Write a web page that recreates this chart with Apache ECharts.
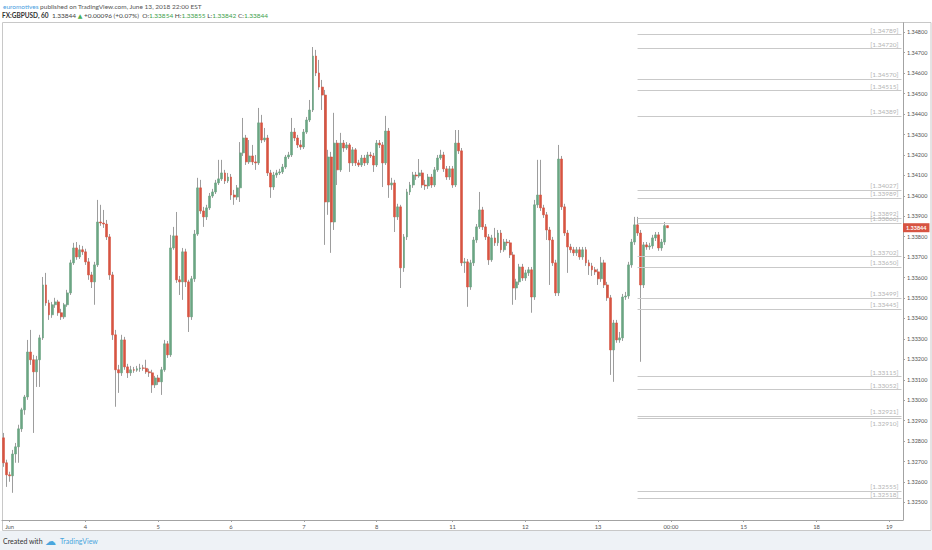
<!DOCTYPE html>
<html>
<head>
<meta charset="utf-8">
<title>FX:GBPUSD, 60</title>
<script src="https://cdn.jsdelivr.net/npm/echarts@6/dist/echarts.min.js"></script>
<style>
  html, body { margin: 0; padding: 0; background: #fff; }
  #chart { width: 932px; height: 550px; }
</style>
</head>
<body>
<div id="chart"></div>
<script>
// GBPUSD hourly bars, Jun 1 – Jun 13 2018: [open, high, low, close]
const ohlc = [
  [1.32816, 1.32840, 1.32674, 1.32694], [1.32694, 1.32709, 1.32576, 1.32635], [1.32635, 1.32650, 1.32601, 1.32630],
  [1.32630, 1.32757, 1.32547, 1.32737], [1.32737, 1.32791, 1.32694, 1.32772], [1.32772, 1.32880, 1.32694, 1.32860],
  [1.32860, 1.32963, 1.32845, 1.32953], [1.32953, 1.33026, 1.32929, 1.33016], [1.33016, 1.33295, 1.33002, 1.33236],
  [1.33236, 1.33344, 1.33173, 1.33198], [1.33198, 1.33222, 1.32840, 1.33139], [1.33139, 1.33217, 1.33065, 1.33198],
  [1.33198, 1.33320, 1.33065, 1.33305], [1.33305, 1.33603, 1.33295, 1.33564], [1.33564, 1.33623, 1.33462, 1.33476],
  [1.33476, 1.33491, 1.33393, 1.33418], [1.33418, 1.33481, 1.33403, 1.33467], [1.33467, 1.33501, 1.33452, 1.33481],
  [1.33481, 1.33491, 1.33413, 1.33428], [1.33428, 1.33447, 1.33393, 1.33408], [1.33408, 1.33476, 1.33398, 1.33467],
  [1.33467, 1.33540, 1.33457, 1.33525], [1.33525, 1.33687, 1.33515, 1.33672], [1.33672, 1.33770, 1.33662, 1.33745],
  [1.33745, 1.33774, 1.33687, 1.33701], [1.33701, 1.33760, 1.33691, 1.33736], [1.33736, 1.33755, 1.33711, 1.33726],
  [1.33726, 1.33741, 1.33662, 1.33677], [1.33677, 1.33696, 1.33589, 1.33613], [1.33613, 1.33628, 1.33549, 1.33579],
  [1.33579, 1.33677, 1.33467, 1.33662], [1.33662, 1.33980, 1.33652, 1.33872], [1.33872, 1.33956, 1.33853, 1.33867],
  [1.33867, 1.33931, 1.33843, 1.33862], [1.33862, 1.33882, 1.33784, 1.33799], [1.33799, 1.33813, 1.33589, 1.33613],
  [1.33613, 1.33628, 1.33295, 1.33320], [1.33320, 1.33344, 1.32968, 1.33149], [1.33149, 1.33173, 1.33036, 1.33134],
  [1.33134, 1.33320, 1.33119, 1.33295], [1.33295, 1.33310, 1.33149, 1.33163], [1.33163, 1.33178, 1.33109, 1.33134],
  [1.33134, 1.33168, 1.33119, 1.33149], [1.33149, 1.33163, 1.33134, 1.33147], [1.33147, 1.33168, 1.33139, 1.33154],
  [1.33154, 1.33178, 1.33139, 1.33158], [1.33158, 1.33173, 1.33144, 1.33156], [1.33156, 1.33198, 1.33129, 1.33139],
  [1.33139, 1.33154, 1.33114, 1.33134], [1.33134, 1.33149, 1.33036, 1.33075], [1.33075, 1.33119, 1.33060, 1.33109],
  [1.33109, 1.33124, 1.33075, 1.33090], [1.33090, 1.33163, 1.33026, 1.33149], [1.33149, 1.33295, 1.33139, 1.33276],
  [1.33276, 1.33290, 1.33207, 1.33222], [1.33222, 1.33809, 1.33212, 1.33745], [1.33745, 1.33848, 1.33736, 1.33804],
  [1.33804, 1.33921, 1.33574, 1.33589], [1.33589, 1.33608, 1.33515, 1.33579], [1.33579, 1.33745, 1.33491, 1.33726],
  [1.33726, 1.33741, 1.33554, 1.33579], [1.33579, 1.33589, 1.33334, 1.33408], [1.33408, 1.33608, 1.33393, 1.33594],
  [1.33594, 1.33833, 1.33579, 1.33813], [1.33813, 1.34088, 1.33804, 1.34039], [1.34039, 1.34078, 1.33912, 1.33926],
  [1.33926, 1.33946, 1.33848, 1.33897], [1.33897, 1.33956, 1.33882, 1.33941], [1.33941, 1.34014, 1.33931, 1.33999],
  [1.33999, 1.34034, 1.33990, 1.34019], [1.34019, 1.34078, 1.34009, 1.34063], [1.34063, 1.34176, 1.34053, 1.34083],
  [1.34083, 1.34176, 1.34073, 1.34112], [1.34112, 1.34127, 1.34058, 1.34073], [1.34073, 1.34112, 1.34063, 1.34092],
  [1.34092, 1.34107, 1.33980, 1.34004], [1.34004, 1.34029, 1.33956, 1.33994], [1.33994, 1.34053, 1.33980, 1.34039],
  [1.34039, 1.34263, 1.33970, 1.34210], [1.34210, 1.34381, 1.34195, 1.34283], [1.34283, 1.34298, 1.34151, 1.34166],
  [1.34166, 1.34273, 1.34156, 1.34195], [1.34195, 1.34249, 1.34151, 1.34166], [1.34166, 1.34200, 1.34127, 1.34161],
  [1.34161, 1.34430, 1.34151, 1.34357], [1.34357, 1.34396, 1.34258, 1.34273], [1.34273, 1.34332, 1.34263, 1.34283],
  [1.34283, 1.34298, 1.34097, 1.34112], [1.34112, 1.34127, 1.33990, 1.34043], [1.34043, 1.34117, 1.34029, 1.34102],
  [1.34102, 1.34127, 1.34088, 1.34112], [1.34112, 1.34132, 1.34102, 1.34117], [1.34117, 1.34156, 1.34107, 1.34141],
  [1.34141, 1.34200, 1.34132, 1.34190], [1.34190, 1.34215, 1.34180, 1.34200], [1.34200, 1.34381, 1.34190, 1.34312],
  [1.34312, 1.34332, 1.34268, 1.34283], [1.34283, 1.34298, 1.34234, 1.34249], [1.34249, 1.34273, 1.34225, 1.34239],
  [1.34239, 1.34327, 1.34229, 1.34312], [1.34312, 1.34386, 1.34303, 1.34371], [1.34371, 1.34469, 1.34361, 1.34420],
  [1.34420, 1.34728, 1.34410, 1.34684], [1.34684, 1.34714, 1.34586, 1.34601], [1.34601, 1.34665, 1.34518, 1.34532],
  [1.34532, 1.34567, 1.34420, 1.34493], [1.34493, 1.34518, 1.33760, 1.33970], [1.33970, 1.34225, 1.33907, 1.34190],
  [1.34190, 1.34215, 1.33721, 1.33872], [1.33872, 1.34406, 1.33833, 1.34258], [1.34258, 1.34273, 1.34053, 1.34127],
  [1.34127, 1.34308, 1.34117, 1.34258], [1.34258, 1.34273, 1.34215, 1.34234], [1.34234, 1.34263, 1.34225, 1.34249],
  [1.34249, 1.34258, 1.34117, 1.34161], [1.34161, 1.34239, 1.34146, 1.34225], [1.34225, 1.34234, 1.34146, 1.34161],
  [1.34161, 1.34176, 1.34141, 1.34151], [1.34151, 1.34200, 1.34141, 1.34185], [1.34185, 1.34200, 1.34146, 1.34161],
  [1.34161, 1.34215, 1.34151, 1.34200], [1.34200, 1.34215, 1.34185, 1.34195], [1.34195, 1.34210, 1.34117, 1.34151],
  [1.34151, 1.34273, 1.34141, 1.34258], [1.34258, 1.34273, 1.34234, 1.34249], [1.34249, 1.34263, 1.34043, 1.34161],
  [1.34161, 1.34391, 1.34151, 1.34317], [1.34317, 1.34332, 1.33990, 1.34053], [1.34053, 1.34088, 1.34029, 1.34063],
  [1.34063, 1.34078, 1.33823, 1.33897], [1.33897, 1.33961, 1.33882, 1.33946], [1.33946, 1.33956, 1.33549, 1.33648],
  [1.33648, 1.33813, 1.33628, 1.33799], [1.33799, 1.34034, 1.33784, 1.34019], [1.34019, 1.34068, 1.34004, 1.34053],
  [1.34053, 1.34117, 1.34039, 1.34102], [1.34102, 1.34117, 1.34078, 1.34097], [1.34097, 1.34180, 1.34088, 1.34112],
  [1.34112, 1.34127, 1.34039, 1.34053], [1.34053, 1.34078, 1.34029, 1.34048], [1.34048, 1.34107, 1.34034, 1.34092],
  [1.34092, 1.34107, 1.34039, 1.34053], [1.34053, 1.34141, 1.34043, 1.34127], [1.34127, 1.34200, 1.34117, 1.34185],
  [1.34185, 1.34225, 1.34176, 1.34200], [1.34200, 1.34215, 1.34117, 1.34132], [1.34132, 1.34146, 1.34078, 1.34092],
  [1.34092, 1.34146, 1.34078, 1.34132], [1.34132, 1.34146, 1.34039, 1.34053], [1.34053, 1.34322, 1.34043, 1.34258],
  [1.34258, 1.34322, 1.34205, 1.34220], [1.34220, 1.34234, 1.33657, 1.33672], [1.33672, 1.33696, 1.33623, 1.33677],
  [1.33677, 1.33691, 1.33457, 1.33554], [1.33554, 1.33687, 1.33540, 1.33672], [1.33672, 1.33799, 1.33657, 1.33784],
  [1.33784, 1.33862, 1.33770, 1.33848], [1.33848, 1.34019, 1.33838, 1.33931], [1.33931, 1.33946, 1.33833, 1.33848],
  [1.33848, 1.33862, 1.33784, 1.33799], [1.33799, 1.33813, 1.33662, 1.33687], [1.33687, 1.33809, 1.33677, 1.33794],
  [1.33794, 1.33843, 1.33755, 1.33770], [1.33770, 1.33833, 1.33755, 1.33818], [1.33818, 1.33833, 1.33721, 1.33736],
  [1.33736, 1.33789, 1.33726, 1.33774], [1.33774, 1.33789, 1.33755, 1.33770], [1.33770, 1.33784, 1.33696, 1.33711],
  [1.33711, 1.33726, 1.33467, 1.33549], [1.33549, 1.33594, 1.33491, 1.33579], [1.33579, 1.33667, 1.33564, 1.33652],
  [1.33652, 1.33667, 1.33584, 1.33598], [1.33598, 1.33638, 1.33584, 1.33623], [1.33623, 1.33652, 1.33608, 1.33638],
  [1.33638, 1.33652, 1.33428, 1.33505], [1.33505, 1.33980, 1.33491, 1.33956], [1.33956, 1.34176, 1.33941, 1.34004],
  [1.34004, 1.34176, 1.33926, 1.33941], [1.33941, 1.33956, 1.33892, 1.33907], [1.33907, 1.33921, 1.33784, 1.33833],
  [1.33833, 1.33848, 1.33564, 1.33784], [1.33784, 1.33799, 1.33657, 1.33672], [1.33672, 1.33687, 1.33510, 1.33525],
  [1.33525, 1.34249, 1.33510, 1.34180], [1.34180, 1.34195, 1.33931, 1.33946], [1.33946, 1.33961, 1.33804, 1.33818],
  [1.33818, 1.33833, 1.33623, 1.33750], [1.33750, 1.33765, 1.33721, 1.33736], [1.33736, 1.33750, 1.33706, 1.33721],
  [1.33721, 1.33750, 1.33706, 1.33736], [1.33736, 1.33750, 1.33687, 1.33701], [1.33701, 1.33750, 1.33687, 1.33736],
  [1.33736, 1.33750, 1.33657, 1.33672], [1.33672, 1.33687, 1.33613, 1.33657], [1.33657, 1.33672, 1.33608, 1.33638],
  [1.33638, 1.33652, 1.33613, 1.33628], [1.33628, 1.33643, 1.33564, 1.33594], [1.33594, 1.33701, 1.33579, 1.33672],
  [1.33672, 1.33687, 1.33549, 1.33564], [1.33564, 1.33579, 1.33486, 1.33501], [1.33501, 1.33515, 1.33124, 1.33246],
  [1.33246, 1.33393, 1.33090, 1.33378], [1.33378, 1.33393, 1.33281, 1.33295], [1.33295, 1.33334, 1.33281, 1.33305],
  [1.33305, 1.33520, 1.33290, 1.33505], [1.33505, 1.33530, 1.33491, 1.33510], [1.33510, 1.33677, 1.33496, 1.33662],
  [1.33662, 1.33789, 1.33648, 1.33774], [1.33774, 1.33897, 1.33760, 1.33858], [1.33858, 1.33897, 1.33804, 1.33818],
  [1.33818, 1.33833, 1.33188, 1.33564], [1.33564, 1.33774, 1.33549, 1.33760], [1.33760, 1.33774, 1.33736, 1.33750],
  [1.33750, 1.33770, 1.33736, 1.33755], [1.33755, 1.33809, 1.33741, 1.33794], [1.33794, 1.33823, 1.33779, 1.33809],
  [1.33809, 1.33823, 1.33731, 1.33745], [1.33745, 1.33789, 1.33731, 1.33774], [1.33774, 1.33872, 1.33760, 1.33854],
  [1.33854, 1.33855, 1.33842, 1.33844]
];

// time axis: bar slot count (incl. empty future space) and labelled slots
const slotCount = 297;
const tickIndex = [2, 27, 51, 75, 99, 123, 148, 172, 196, 220, 244, 268, 292];
const tickLabels = ['Jun', '4', '5', '6', '7', '8', '11', '12', '13', '00:00', '15', '18', '19'];

const priceTicks = [1.325, 1.326, 1.327, 1.328, 1.329, 1.330, 1.331, 1.332, 1.333, 1.334, 1.335, 1.336,
  1.337, 1.338, 1.339, 1.340, 1.341, 1.342, 1.343, 1.344, 1.345, 1.346, 1.347, 1.348];

// horizontal price levels drawn on the right
const levels = [1.34789, 1.34720, 1.34570, 1.34515, 1.34389, 1.34027, 1.33989, 1.33892, 1.33866,
  1.33702, 1.33650, 1.33499, 1.33445, 1.33115, 1.33052, 1.32921, 1.32910, 1.32555, 1.32518];
const levelStart = 209;

const change = '+0.00096';
const changePct = '+0.07%';

document.addEventListener('DOMContentLoaded', () => {
  const myChart = echarts.init(document.getElementById('chart'), null, { renderer: 'svg' });

  const upColor = '#6ba583';
  const downColor = '#d75442';
  const wickColor = '#9d9d9d';
  const axisColor = '#a3a3a3';
  const font = 'Lato, "Open Sans", sans-serif';

  const cats = Array.from({ length: slotCount }, (_, i) => 'b' + i);
  const wickData = ohlc.map(r => [r[0], r[3], r[2], r[1]]);
  const bodyData = ohlc.map(r => [r[0], r[3], Math.min(r[0], r[3]), Math.max(r[0], r[3])]);
  const last = ohlc[ohlc.length - 1];
  const f5 = v => v.toFixed(5);

  // a level sitting just under another one gets its label under the line
  const levelLines = levels.map((v, i) => {
    const crowded = i > 0 && levels[i - 1] - v < 0.00015;
    return [
      { coord: [levelStart, v], name: '[' + f5(v) + ']',
        label: { position: crowded ? 'insideEndBottom' : 'insideEndTop' } },
      { coord: [slotCount - 1, v] }
    ];
  });

  const option = {
    animation: false,
    backgroundColor: '#fff',
    textStyle: { fontFamily: font },
    grid: { left: 2, right: 29, top: 22.7, bottom: 30, show: false },
    xAxis: {
      type: 'category',
      data: cats,
      boundaryGap: true,
      axisLine: { lineStyle: { color: axisColor, width: 1 } },
      axisTick: {
        show: true, alignWithLabel: true, length: 2,
        interval: (i) => tickIndex.includes(i),
        lineStyle: { color: axisColor }
      },
      axisLabel: {
        interval: (i) => tickIndex.includes(i),
        formatter: (v, i) => {
          const k = tickIndex.indexOf(i);
          return k >= 0 ? tickLabels[k] : '';
        },
        fontSize: 5.8, color: '#555', margin: 3
      },
      splitLine: { show: false }
    },
    yAxis: {
      type: 'value',
      position: 'right',
      scale: true,
      min: 1.32414,
      max: 1.34847,
      axisLine: { show: true, lineStyle: { color: axisColor, width: 1 } },
      axisTick: { show: true, length: 2, customValues: priceTicks, lineStyle: { color: axisColor } },
      axisLabel: {
        customValues: priceTicks,
        formatter: v => f5(v),
        fontSize: 5.5, color: '#555', margin: 4
      },
      splitLine: { show: false }
    },
    series: [
      {
        name: 'wick',
        type: 'candlestick',
        data: wickData,
        barWidth: 1,
        silent: true,
        itemStyle: {
          color: wickColor, color0: wickColor,
          borderColor: wickColor, borderColor0: wickColor, borderColorDoji: wickColor,
          borderWidth: 1
        }
      },
      {
        name: 'FX:GBPUSD',
        type: 'candlestick',
        data: bodyData,
        barWidth: 2.4,
        silent: true,
        itemStyle: {
          color: upColor, color0: downColor,
          borderColor: upColor, borderColor0: downColor, borderColorDoji: wickColor,
          borderWidth: 0.6
        },
        markLine: {
          silent: true,
          precision: 5,
          symbol: ['none', 'none'],
          lineStyle: { color: '#c9c9c9', width: 1, type: 'solid' },
          label: {
            show: true,
            position: 'insideEndTop',
            formatter: p => p.name,
            color: '#b5b5b5',
            fontSize: 6.5,
            distance: [3, 1]
          },
          data: levelLines.concat([{
            yAxis: last[3],
            name: 'last',
            lineStyle: { color: 'rgba(0,0,0,0)', width: 1 },
            label: {
              position: 'end',
              formatter: () => f5(last[3]),
              color: '#fff',
              backgroundColor: downColor,
              fontSize: 5.5,
              fontWeight: 'bold',
              padding: [1.5, 3, 1.5, 3],
              distance: 0
            }
          }])
        }
      }
    ],
    graphic: [
      {
        type: 'text', x: 3, y: 6, silent: true,
        style: {
          text: '{u|euromotives}{t| published on TradingView.com, June 13, 2018 22:00 EST}',
          verticalAlign: 'middle',
          rich: {
            u: { fill: '#4a9ee0', fontSize: 6.5, fontFamily: font },
            t: { fill: '#555', fontSize: 6.5, fontFamily: font }
          }
        }
      },
      {
        type: 'text', x: 2, y: 15.5, silent: true,
        style: {
          text: '{b|FX:GBPUSD, 60}{t|  ' + f5(last[3]) + ' }{g|▲}{t| ' + change + ' (' + changePct + ')  O:}{v|' + f5(last[0]) +
            '}{t| H:}{v|' + f5(last[1]) + '}{t| L:}{v|' + f5(last[2]) + '}{t| C:}{v|' + f5(last[3]) + '}',
          verticalAlign: 'middle',
          rich: {
            b: { fill: '#333', fontSize: 6.5, fontWeight: 'bold', fontFamily: font },
            t: { fill: '#444', fontSize: 6.5, fontFamily: font },
            g: { fill: '#4caf50', fontSize: 6, fontFamily: 'DejaVu Sans' },
            v: { fill: '#3ea04b', fontSize: 6.5, fontFamily: font }
          }
        }
      },
      {
        type: 'rect', silent: true,
        shape: { x: 2.5, y: 22.5, width: 928.5, height: 508 },
        style: { fill: 'none', stroke: '#c8c8c8', lineWidth: 1 }
      },
      {
        type: 'rect', silent: true,
        shape: { x: 0, y: 531, width: 932, height: 19 },
        style: { fill: '#eef2f6' }
      },
      {
        type: 'text', x: 3, y: 541, silent: true,
        style: { text: 'Created with', fill: '#333', fontSize: 7, fontFamily: font, verticalAlign: 'middle' }
      },
      {
        type: 'text', x: 45, y: 541, silent: true,
        style: { text: '☁', fill: '#4aa6dd', fontSize: 11, fontFamily: 'DejaVu Sans', verticalAlign: 'middle' }
      },
      {
        type: 'text', x: 60, y: 541, silent: true,
        style: { text: 'TradingView', fill: '#4aa6dd', fontSize: 7, fontFamily: font, verticalAlign: 'middle' }
      }
    ]
  };

  myChart.setOption(option);
  window.addEventListener('resize', () => myChart.resize());
});
</script>
</body>
</html>
